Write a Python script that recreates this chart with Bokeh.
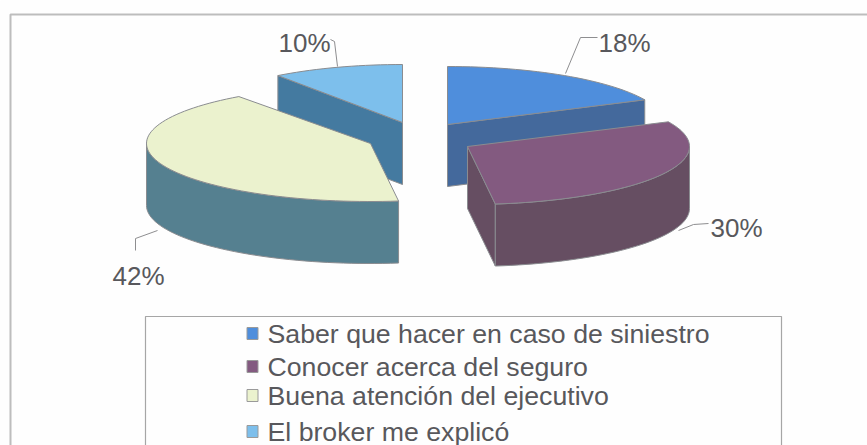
import math
from bokeh.core.properties import value
from bokeh.embed import file_html
from bokeh.models import Range1d
from bokeh.plotting import figure
from bokeh.resources import INLINE

# Chart data
categories = [
    "Saber que hacer en caso de siniestro",
    "Conocer acerca del seguro",
    "Buena atención del ejecutivo",
    "El broker me explicó",
]
shares = [18, 30, 42, 10]
top_colors = ["#4F8EDC", "#835A80", "#EBF2CE", "#7DBFEC"]
wall_colors = ["#44699C", "#664E62", "#558090", "#447AA0"]

# Exploded pie geometry, in page pixels
centers = [(447, 124), (467, 146), (370, 143), (402, 122)]
radii_x = [218, 222, 224, 212]
RY, DEPTH = 58, 62
TEXT_COLOR = "#58585C"
EDGE = "#8A8C90"
FONT = value("Liberation Sans")

p = figure(width=867, height=445, output_backend="svg", toolbar_location=None,
           x_range=Range1d(0, 867), y_range=Range1d(445, 0),
           min_border=0, background_fill_color="#FEFEFE",
           border_fill_color="#FEFEFE", outline_line_color=None)
p.axis.visible = False
p.grid.visible = False


def rim(cx, cy, rx, a0, a1, drop=0):
    """Points of the ellipse rim between two clockwise-from-top angles."""
    n = max(2, int(abs(a1 - a0) / 2))
    xs, ys = [], []
    for i in range(n + 1):
        a = math.radians(a0 + (a1 - a0) * i / n)
        xs.append(cx + rx * math.sin(a))
        ys.append(cy - RY * math.cos(a) + drop)
    return xs, ys


def draw_patch(xs, ys, color):
    p.patch(xs, ys, fill_color=color, line_color=EDGE, line_width=1)


# Turn the shares into slice boundaries
bounds = [0]
for s in shares:
    bounds.append(bounds[-1] + s * 3.6)

# Back slices first, front slices over them
for i in [3, 0, 2, 1]:
    cx, cy = centers[i]
    rx = radii_x[i]
    a0, a1 = bounds[i], bounds[i + 1]

    # Radial wall on whichever cut edge faces the viewer
    if i in (0, 3, 1):
        wall_angle = {0: a1, 3: a0, 1: a1}[i]
        a = math.radians(wall_angle)
        ex, ey = cx + rx * math.sin(a), cy - RY * math.cos(a)
        draw_patch([cx, ex, ex, cx], [cy, ey, ey + DEPTH, cy + DEPTH], wall_colors[i])

    # Outer wall over the front half of the rim
    lo, hi = max(a0, 90), min(a1, 270)
    if hi > lo:
        xs, ys = rim(cx, cy, rx, lo, hi)
        xd, yd = rim(cx, cy, rx, lo, hi, DEPTH)
        draw_patch(xs + xd[::-1], ys + yd[::-1], wall_colors[i])

    # Top surface
    xs, ys = rim(cx, cy, rx, a0, a1)
    draw_patch([cx] + xs, [cy] + ys, top_colors[i])

# Percentage labels and their leader lines
label_xy = [(624, 42), (736, 227), (138, 275), (304, 42)]
leaders = [
    ([597, 580, 565], [37, 37, 73]),
    ([708, 693, 678], [223, 224, 230]),
    ([157, 135, 135], [230, 238, 250]),
    ([330, 334, 337], [39, 41, 66]),
]
for share, (lx, ly), (xs, ys) in zip(shares, label_xy, leaders):
    p.line(xs, ys, line_color="#8E8E90", line_width=1)
    p.text([lx], [ly], text=[f"{share}%"], text_font=FONT, text_font_size="26px",
           text_color=TEXT_COLOR, text_align="center", text_baseline="middle")

# Outer chart frame, running off the page
p.line([10, 10, 867], [445, 14, 14], line_color="#BDBDBD", line_width=2)

# Legend box, also cut by the page edge
p.line([145, 145, 781, 781], [445, 316, 316, 445], line_color="#A6A6A6", line_width=1.2)
legend_y = [333, 366, 395, 431]
for name, color, y in zip(categories, top_colors, legend_y):
    p.rect([252], [y], width=11, height=12, fill_color=color, line_color="#9A9A9A", line_width=1)
    p.text([267], [y], text=[name], text_font=FONT, text_font_size="26.7px",
           text_color=TEXT_COLOR, text_align="left", text_baseline="middle")

open("out.html", "w").write(file_html(p, INLINE))
